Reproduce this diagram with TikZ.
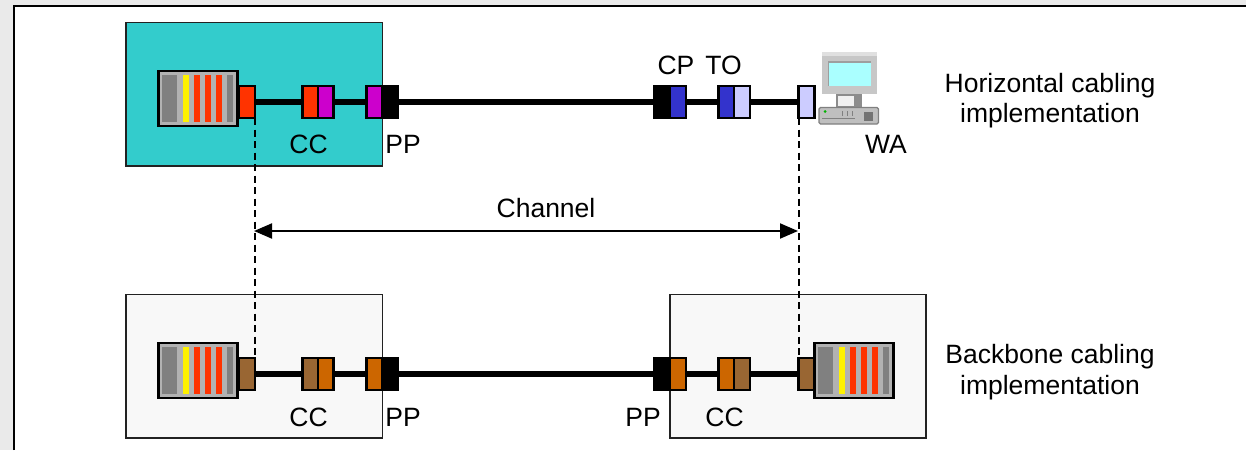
\documentclass[tikz,border=0pt]{standalone}
\usepackage{fontspec}
\setmainfont{Liberation Sans}
\usetikzlibrary{arrows.meta}
\definecolor{framegray}{HTML}{EAEAEA}
\definecolor{teal}{HTML}{33CCCC}
\definecolor{paleroom}{HTML}{F8F8F8}
\definecolor{rackgray}{HTML}{B2B2B2}
\definecolor{bargray}{HTML}{808080}
\definecolor{cred}{HTML}{FF3300}
\definecolor{cpurple}{HTML}{CC00CC}
\definecolor{cblue}{HTML}{3333CC}
\definecolor{clight}{HTML}{CCCCFF}
\definecolor{cbrown}{HTML}{996633}
\definecolor{corange}{HTML}{CC6600}
\definecolor{linedark}{HTML}{222222}
\definecolor{screenblue}{HTML}{AAFFFF}
\tikzset{
  x=1pt,y=-1pt,
  room/.style={draw=linedark,line width=1.8pt},
  jack/.style={draw=black,line width=2.2pt,inner sep=0pt,outer sep=0pt,minimum width=15.5pt,minimum height=32pt},
  cable/.style={draw=black,line width=6pt},
  guide/.style={draw=black,line width=2pt,dash pattern=on 7pt off 4.5pt},
  span/.style={draw=black,line width=2pt,{Triangle[length=18pt,width=15pt]}-{Triangle[length=18pt,width=15pt]}},
  label/.style={font=\fontsize{26.5}{30.5}\selectfont,inner sep=0pt,align=center,text=black},
  rackbox/.style={draw=black,line width=2.4pt,fill=rackgray,inner sep=0pt,outer sep=0pt,minimum width=79pt,minimum height=55pt},
}
\newcommand{\rackunit}[3]{%
  \node[rackbox] (#1) at (#2+40,#3+28) {};
  \fill[bargray] (#2+4,#3+4.5) rectangle (#2+19,#3+51.5);
  \fill[yellow] (#2+25,#3+4.5) rectangle (#2+31,#3+51.5);
  \fill[cred] (#2+36,#3+4.5) rectangle (#2+42,#3+51.5);
  \fill[cred] (#2+47,#3+4.5) rectangle (#2+53,#3+51.5);
  \fill[cred] (#2+58,#3+4.5) rectangle (#2+64,#3+51.5);
  \fill[bargray] (#2+69,#3+4.5) rectangle (#2+75,#3+51.5);
}
\begin{document}
\begin{tikzpicture}
\useasboundingbox (0,0) rectangle (1246,450);
\fill[framegray] (0,0) rectangle (1246,450);
\fill[white] (14,6) rectangle (1246,450);
\draw[black,line width=2pt] (14,450) -- (14,6) -- (1246,6);
% rooms
\draw[room,fill=teal] (126,22.5) rectangle (382.5,166);
\draw[room,fill=paleroom] (126,294.5) rectangle (382.5,438);
\draw[room,fill=paleroom] (670,294.5) rectangle (926.3,438);
% racks
\rackunit{rackA}{158}{70.5}
\rackunit{rackB}{158}{342.5}
\rackunit{rackC}{814}{342.5}
% computer
\fill[black!22] (822.3,52.3) rectangle (876.7,94);
\fill[black!12] (822.3,52.3) rectangle (876.7,56);
\fill[black!38] (827.7,61) rectangle (870.7,86);
\fill[screenblue] (829,63) rectangle (870.7,86);
\fill[black!45] (836,94) rectangle (862,107);
\fill[black!6] (838,96) rectangle (854,106);
\draw[black!50,fill=black!25,line width=1.2pt,rounded corners=1.5pt] (819,107.5) rectangle (878.5,124);
\fill[green!70!black] (825,111.5) circle (1.5);
\draw[black!50,line width=.8pt] (822,118) -- (855,118) (842,111) -- (842,116) (847,111) -- (847,116) (852,111) -- (852,116);
\fill[black!55] (864,112) rectangle (873,121);
% horizontal row
\node[jack,fill=cred] (h1) at (247,102) {};
\node[jack,fill=cred] (h2) at (310.25,102) {};
\node[jack,fill=cpurple] (h3) at (325.75,102) {};
\node[jack,fill=cpurple] (h4) at (374.25,102) {};
\node[jack,fill=black] (h5) at (390.25,102) {};
\node[jack,fill=black] (h6) at (662,102) {};
\node[jack,fill=cblue] (h7) at (678,102) {};
\node[jack,fill=cblue] (h8) at (726.25,102) {};
\node[jack,fill=clight] (h9) at (742,102) {};
\node[jack,fill=clight,minimum width=16pt] (h10) at (806.5,102) {};
\draw[cable] (h1.east) -- (h2.west);
\draw[cable] (h3.east) -- (h4.west);
\draw[cable] (h5.east) -- (h6.west);
\draw[cable] (h7.east) -- (h8.west);
\draw[cable] (h9.east) -- (h10.west);
% backbone row
\node[jack,fill=cbrown] (b1) at (247,374) {};
\node[jack,fill=cbrown] (b2) at (310.25,374) {};
\node[jack,fill=corange] (b3) at (325.75,374) {};
\node[jack,fill=corange] (b4) at (374.25,374) {};
\node[jack,fill=black] (b5) at (390.25,374) {};
\node[jack,fill=black] (b6) at (662,374) {};
\node[jack,fill=corange] (b7) at (678,374) {};
\node[jack,fill=corange] (b8) at (726.25,374) {};
\node[jack,fill=cbrown] (b9) at (742,374) {};
\node[jack,fill=cbrown,minimum width=16pt] (b10) at (806.5,374) {};
\draw[cable] (b1.east) -- (b2.west);
\draw[cable] (b3.east) -- (b4.west);
\draw[cable] (b5.east) -- (b6.west);
\draw[cable] (b7.east) -- (b8.west);
\draw[cable] (b9.east) -- (b10.west);
% guides and channel
\draw[guide] (h1.south east) -- (b1.north east);
\draw[guide] (h10.south west) -- (b10.north west);
\coordinate (chanL) at (254,231);
\coordinate (chanR) at (798,231);
\draw[span] (chanL) -- (chanR);
% labels
\node[label] (tChannel) at (546,208) {Channel};
\node[label] (tCC1) at (308.5,144) {CC};
\node[label] (tPP1) at (403,144) {PP};
\node[label] (tCP) at (676,65) {CP};
\node[label] (tTO) at (723.5,65) {TO};
\node[label] (tWA) at (886,144) {WA};
\node[label] (tH) at (1050,100.5) {Horizontal cabling\\implementation};
\node[label] (tB) at (1050,372) {Backbone cabling\\implementation};
\node[label] (tCC2) at (308.5,417) {CC};
\node[label] (tPP2) at (403,417) {PP};
\node[label] (tPP3) at (643,417) {PP};
\node[label] (tCC3) at (724.5,417) {CC};
\end{tikzpicture}
\end{document}
